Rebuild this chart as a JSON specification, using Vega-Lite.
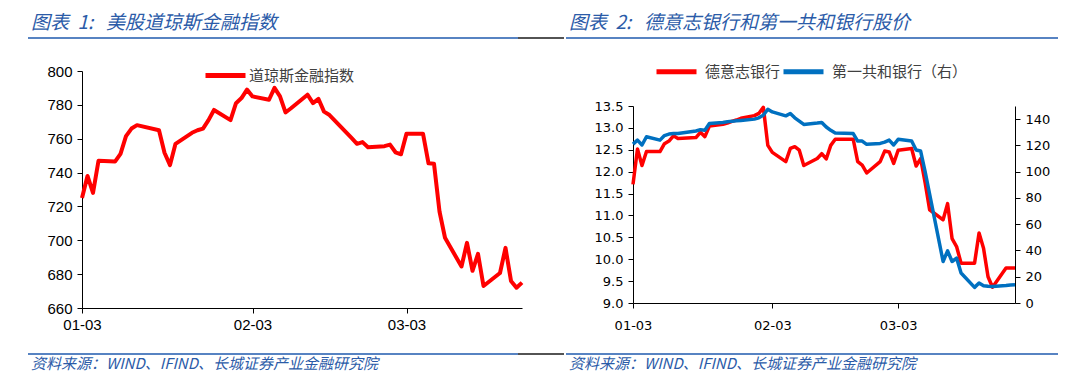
{
  "$schema": "https://vega.github.io/schema/vega-lite/v6.json",
  "background": "white",
  "padding": {"left": 27, "top": 14, "right": 0, "bottom": 0},
  "config": {
    "view": {"stroke": null},
    "axis": {"labelFont": "Liberation Sans", "labelColor": "#000000", "domainColor": "#000000", "tickColor": "#000000", "grid": false, "labelOverlap": false}
  },
  "spacing": 0,
  "resolve": {"scale": {"color": "independent"}, "legend": {"color": "independent"}},
  "hconcat": [
    {
      "spacing": 16,
      "vconcat": [
        {
          "width": 482, "height": 10,
          "data": {"values": [{}]},
          "title": {"text": "图表\u00a0\u00a01:\u00a0\u00a0\u00a0美股道琼斯金融指数", "anchor": "start", "frame": "group", "font": "Noto Sans CJK SC", "fontSize": 19, "fontStyle": "italic", "fontWeight": "normal", "color": "#2B5BA8", "offset": 4, "dx": -51},
          "encoding": {"y": {"datum": 1, "type": "quantitative", "scale": {"domain": [0, 1]}, "axis": null}},
          "layer": [
            {"mark": {"type": "rule", "color": "#1F5AAE", "strokeWidth": 1.5}, "encoding": {"x": {"datum": -0.11203, "type": "quantitative", "scale": {"domain": [0, 1]}, "axis": null}, "x2": {"datum": 0.90456}}},
            {"mark": {"type": "rule", "color": "#1a1a1a", "strokeWidth": 1.5}, "encoding": {"x": {"datum": 0.90456, "type": "quantitative"}, "x2": {"datum": 1}}}
          ]
        },
        {
          "width": 440, "height": 237,
          "data": {"values": [
            {"date": "2023-01-03", "value": 725},
            {"date": "2023-01-04", "value": 738},
            {"date": "2023-01-05", "value": 728},
            {"date": "2023-01-06", "value": 747},
            {"date": "2023-01-09", "value": 746.5},
            {"date": "2023-01-10", "value": 751},
            {"date": "2023-01-11", "value": 761.5},
            {"date": "2023-01-12", "value": 766},
            {"date": "2023-01-13", "value": 768},
            {"date": "2023-01-17", "value": 765},
            {"date": "2023-01-18", "value": 751.7},
            {"date": "2023-01-19", "value": 744.4},
            {"date": "2023-01-20", "value": 757},
            {"date": "2023-01-23", "value": 763.5},
            {"date": "2023-01-24", "value": 765},
            {"date": "2023-01-25", "value": 766},
            {"date": "2023-01-26", "value": 771},
            {"date": "2023-01-27", "value": 777},
            {"date": "2023-01-30", "value": 771},
            {"date": "2023-01-31", "value": 781},
            {"date": "2023-02-01", "value": 784},
            {"date": "2023-02-02", "value": 789},
            {"date": "2023-02-03", "value": 785},
            {"date": "2023-02-06", "value": 783},
            {"date": "2023-02-07", "value": 790},
            {"date": "2023-02-08", "value": 785},
            {"date": "2023-02-09", "value": 775.5},
            {"date": "2023-02-10", "value": 778},
            {"date": "2023-02-13", "value": 786},
            {"date": "2023-02-14", "value": 781},
            {"date": "2023-02-15", "value": 783.5},
            {"date": "2023-02-16", "value": 776},
            {"date": "2023-02-17", "value": 774},
            {"date": "2023-02-21", "value": 760.5},
            {"date": "2023-02-22", "value": 757},
            {"date": "2023-02-23", "value": 758},
            {"date": "2023-02-24", "value": 755},
            {"date": "2023-02-27", "value": 755.6},
            {"date": "2023-02-28", "value": 756.5},
            {"date": "2023-03-01", "value": 752},
            {"date": "2023-03-02", "value": 750.8},
            {"date": "2023-03-03", "value": 763},
            {"date": "2023-03-06", "value": 763},
            {"date": "2023-03-07", "value": 745.5},
            {"date": "2023-03-08", "value": 745.2},
            {"date": "2023-03-09", "value": 717},
            {"date": "2023-03-10", "value": 701.5},
            {"date": "2023-03-13", "value": 684.5},
            {"date": "2023-03-14", "value": 698.5},
            {"date": "2023-03-15", "value": 682},
            {"date": "2023-03-16", "value": 692},
            {"date": "2023-03-17", "value": 673},
            {"date": "2023-03-20", "value": 680.7},
            {"date": "2023-03-21", "value": 695.5},
            {"date": "2023-03-22", "value": 676},
            {"date": "2023-03-23", "value": 672},
            {"date": "2023-03-24", "value": 675}
          ]},
          "mark": {"type": "line", "strokeWidth": 4, "strokeJoin": "round"},
          "encoding": {
            "x": {"field": "date", "type": "temporal",
              "scale": {"type": "utc", "domain": [{"year": 2023, "month": 1, "date": 3, "utc": true}, {"year": 2023, "month": 3, "date": 24, "utc": true}]},
              "axis": {"values": [{"year": 2023, "month": 1, "date": 3, "utc": true}, {"year": 2023, "month": 2, "date": 3, "utc": true}, {"year": 2023, "month": 3, "date": 3, "utc": true}], "format": "%m-%d", "title": null, "labelFontSize": 15, "tickSize": 5, "labelPadding": 4, "minExtent": 29, "labelFlush": false}},
            "y": {"field": "value", "type": "quantitative",
              "scale": {"domain": [660, 800], "nice": false, "zero": false},
              "axis": {"values": [660, 680, 700, 720, 740, 760, 780, 800], "title": null, "labelFontSize": 15, "tickSize": 5, "labelPadding": 5, "minExtent": 54}},
            "color": {"datum": "道琼斯金融指数", "type": "nominal",
              "scale": {"domain": ["道琼斯金融指数"], "range": ["#FF0000"]},
              "legend": {"orient": "none", "legendX": 121, "legendY": 15, "title": null, "symbolType": "stroke", "symbolSize": 1600, "symbolStrokeWidth": 5, "labelFont": "Noto Sans CJK SC", "labelFontSize": 15, "labelColor": "#404040", "labelOffset": 1, "padding": 0}}
          }
        },
        {
          "width": 482, "height": 1,
          "data": {"values": [{}]},
          "title": {"text": "资料来源：WIND、IFIND、长城证券产业金融研究院", "orient": "bottom", "anchor": "start", "frame": "group", "font": "Noto Sans CJK SC", "fontSize": 15, "fontStyle": "italic", "fontWeight": "normal", "color": "#2B5BA8", "offset": 2, "dx": -51},
          "encoding": {"y": {"datum": 1, "type": "quantitative", "scale": {"domain": [0, 1]}, "axis": null}},
          "layer": [
            {"mark": {"type": "rule", "color": "#1F5AAE", "strokeWidth": 1.5}, "encoding": {"x": {"datum": -0.11203, "type": "quantitative", "scale": {"domain": [0, 1]}, "axis": null}, "x2": {"datum": 0.90456}}},
            {"mark": {"type": "rule", "color": "#1a1a1a", "strokeWidth": 1.5}, "encoding": {"x": {"datum": 0.90456, "type": "quantitative"}, "x2": {"datum": 1}}}
          ]
        }
      ]
    },
    {
      "spacing": 13,
      "vconcat": [
        {
          "width": 425, "height": 48.5,
          "data": {"values": [{}]},
          "title": {"text": "图表\u00a0\u00a02:\u00a0\u00a0\u00a0德意志银行和第一共和银行股价", "anchor": "start", "frame": "group", "font": "Noto Sans CJK SC", "fontSize": 19, "fontStyle": "italic", "fontWeight": "normal", "color": "#2B5BA8", "offset": 4, "dx": -64},
          "mark": {"type": "rule", "color": "#1F5AAE", "strokeWidth": 1.5},
          "encoding": {"y": {"datum": 1, "type": "quantitative", "scale": {"domain": [0, 1]}, "axis": null}, "x": {"datum": -0.15765, "type": "quantitative", "scale": {"domain": [0, 1]}, "axis": null}, "x2": {"datum": 1}}
        },
        {
          "width": 382, "height": 197,
          "data": {"values": [
            {"date": "2023-01-03", "db": 11.71, "frc": 121},
            {"date": "2023-01-04", "db": 12.52, "frc": 124},
            {"date": "2023-01-05", "db": 12.14, "frc": 120.3},
            {"date": "2023-01-06", "db": 12.46, "frc": 126.6},
            {"date": "2023-01-09", "db": 12.46, "frc": 124},
            {"date": "2023-01-10", "db": 12.64, "frc": 127.5},
            {"date": "2023-01-11", "db": 12.7, "frc": 128.6},
            {"date": "2023-01-12", "db": 12.82, "frc": 129},
            {"date": "2023-01-13", "db": 12.76, "frc": 129},
            {"date": "2023-01-17", "db": 12.78, "frc": 131},
            {"date": "2023-01-18", "db": 12.9, "frc": 132},
            {"date": "2023-01-19", "db": 12.8, "frc": 131.6},
            {"date": "2023-01-20", "db": 13.04, "frc": 136.7},
            {"date": "2023-01-23", "db": 13.08, "frc": 137.5},
            {"date": "2023-01-24", "db": 13.11, "frc": 138},
            {"date": "2023-01-25", "db": 13.15, "frc": 138.3},
            {"date": "2023-01-26", "db": 13.18, "frc": 138.7},
            {"date": "2023-01-27", "db": 13.22, "frc": 139},
            {"date": "2023-01-30", "db": 13.28, "frc": 140},
            {"date": "2023-01-31", "db": 13.33, "frc": 141},
            {"date": "2023-02-01", "db": 13.47, "frc": 143},
            {"date": "2023-02-02", "db": 12.6, "frc": 147.5},
            {"date": "2023-02-03", "db": 12.44, "frc": 145.5},
            {"date": "2023-02-06", "db": 12.23, "frc": 142.5},
            {"date": "2023-02-07", "db": 12.53, "frc": 144.3},
            {"date": "2023-02-08", "db": 12.57, "frc": 141},
            {"date": "2023-02-09", "db": 12.49, "frc": 138.5},
            {"date": "2023-02-10", "db": 12.14, "frc": 136},
            {"date": "2023-02-13", "db": 12.3, "frc": 137},
            {"date": "2023-02-14", "db": 12.41, "frc": 137.5},
            {"date": "2023-02-15", "db": 12.29, "frc": 134},
            {"date": "2023-02-16", "db": 12.6, "frc": 131.5},
            {"date": "2023-02-17", "db": 12.74, "frc": 129.5},
            {"date": "2023-02-21", "db": 12.74, "frc": 129},
            {"date": "2023-02-22", "db": 12.23, "frc": 123.3},
            {"date": "2023-02-23", "db": 12.15, "frc": 123.3},
            {"date": "2023-02-24", "db": 11.97, "frc": 120.8},
            {"date": "2023-02-27", "db": 12.23, "frc": 121.5},
            {"date": "2023-02-28", "db": 12.47, "frc": 122.5},
            {"date": "2023-03-01", "db": 12.45, "frc": 124},
            {"date": "2023-03-02", "db": 12.19, "frc": 120.3},
            {"date": "2023-03-03", "db": 12.49, "frc": 124.6},
            {"date": "2023-03-06", "db": 12.53, "frc": 123.3},
            {"date": "2023-03-07", "db": 12.13, "frc": 116.5},
            {"date": "2023-03-08", "db": 12.3, "frc": 115.7},
            {"date": "2023-03-09", "db": 11.75, "frc": 100},
            {"date": "2023-03-10", "db": 11.13, "frc": 83},
            {"date": "2023-03-13", "db": 10.9, "frc": 31.6},
            {"date": "2023-03-14", "db": 11.27, "frc": 39.7},
            {"date": "2023-03-15", "db": 10.47, "frc": 31.6},
            {"date": "2023-03-16", "db": 10.29, "frc": 34.2},
            {"date": "2023-03-17", "db": 9.91, "frc": 22.8},
            {"date": "2023-03-20", "db": 9.91, "frc": 11.9},
            {"date": "2023-03-21", "db": 10.6, "frc": 15.2},
            {"date": "2023-03-22", "db": 10.25, "frc": 13.2},
            {"date": "2023-03-23", "db": 9.6, "frc": 12.7},
            {"date": "2023-03-24", "db": 9.36, "frc": 12.6},
            {"date": "2023-03-27", "db": 9.8, "frc": 13.3},
            {"date": "2023-03-28", "db": 9.8, "frc": 13.7},
            {"date": "2023-03-29", "db": 9.8, "frc": 13.9}
          ]},
          "encoding": {
            "x": {"field": "date", "type": "temporal",
              "scale": {"type": "utc", "domain": [{"year": 2023, "month": 1, "date": 3, "utc": true}, {"year": 2023, "month": 3, "date": 29, "utc": true}]},
              "axis": {"values": [{"year": 2023, "month": 1, "date": 3, "utc": true}, {"year": 2023, "month": 2, "date": 3, "utc": true}, {"year": 2023, "month": 3, "date": 3, "utc": true}], "format": "%m-%d", "title": null, "labelFont": "DejaVu Sans", "labelFontSize": 13, "tickSize": 5, "labelPadding": 11, "minExtent": 37, "labelFlush": false}}
          },
          "layer": [
            {
              "mark": {"type": "line", "strokeWidth": 3.5, "strokeJoin": "round"},
              "encoding": {
                "y": {"field": "db", "type": "quantitative",
                  "scale": {"domain": [9, 13.5], "nice": false, "zero": false},
                  "axis": {"orient": "left", "values": [9, 9.5, 10, 10.5, 11, 11.5, 12, 12.5, 13, 13.5], "format": ".1f", "title": null, "labelFont": "DejaVu Sans", "labelFontSize": 13, "tickSize": 5, "labelPadding": 5, "minExtent": 67}},
                "color": {"datum": "德意志银行", "type": "nominal",
                  "scale": {"domain": ["德意志银行", "第一共和银行（右）"], "range": ["#FF0000", "#0070C0"]},
                  "legend": {"orient": "none", "direction": "horizontal", "legendX": 21, "legendY": 11, "title": null, "symbolType": "stroke", "symbolSize": 1600, "symbolStrokeWidth": 5, "labelFont": "Noto Sans CJK SC", "labelFontSize": 15, "labelColor": "#404040", "labelOffset": 6, "columnPadding": -9, "padding": 0}}
              }
            },
            {
              "mark": {"type": "line", "strokeWidth": 3.5, "strokeJoin": "round"},
              "encoding": {
                "y": {"field": "frc", "type": "quantitative",
                  "scale": {"domain": [0, 150], "nice": false},
                  "axis": {"orient": "right", "values": [0, 20, 40, 60, 80, 100, 120, 140], "title": null, "labelFont": "DejaVu Sans", "labelFontSize": 13, "tickSize": 5, "labelPadding": 5}},
                "color": {"datum": "第一共和银行（右）", "type": "nominal"}
              }
            }
          ],
          "resolve": {"scale": {"y": "independent"}}
        },
        {
          "width": 425, "height": 1,
          "data": {"values": [{}]},
          "title": {"text": "资料来源：WIND、IFIND、长城证券产业金融研究院", "orient": "bottom", "anchor": "start", "frame": "group", "font": "Noto Sans CJK SC", "fontSize": 15, "fontStyle": "italic", "fontWeight": "normal", "color": "#2B5BA8", "offset": 2, "dx": -64},
          "mark": {"type": "rule", "color": "#1F5AAE", "strokeWidth": 1.5},
          "encoding": {"y": {"datum": 1, "type": "quantitative", "scale": {"domain": [0, 1]}, "axis": null}, "x": {"datum": -0.15765, "type": "quantitative", "scale": {"domain": [0, 1]}, "axis": null}, "x2": {"datum": 1}}
        }
      ]
    }
  ]
}
